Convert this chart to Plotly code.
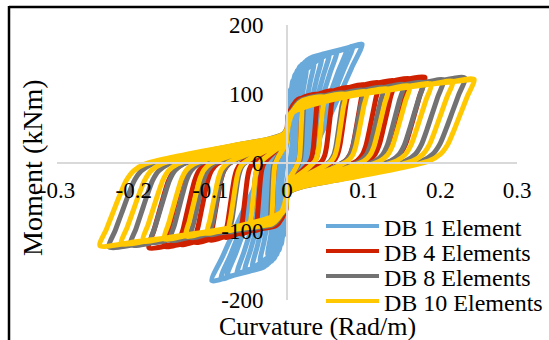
import plotly.graph_objects as go

# ---- data ----
series_names = ["DB 1 Element", "DB 4 Elements", "DB 8 Elements", "DB 10 Elements"]
series_colors = ["#6AAADB", "#CF2000", "#727272", "#FFC800"]

# peak curvature (Rad/m) of each cycle
blue_amp = [0.015, 0.025, 0.035, 0.045, 0.055, 0.065, 0.078, 0.086, 0.098]
red_amp = [0.020, 0.040, 0.060, 0.080, 0.100, 0.120, 0.140, 0.160, 0.180]
gray_amp = [0.022, 0.048, 0.074, 0.100, 0.126, 0.152, 0.178, 0.204, 0.232]
yellow_amp = [0.020, 0.048, 0.076, 0.104, 0.132, 0.160, 0.188, 0.216, 0.244]

# peak moment (kNm) of each cycle
blue_mom = [120, 135, 145, 152, 158, 162, 166, 169, 172]
red_mom = [94, 99, 104, 109, 113, 116, 119, 122, 124]
gray_mom = [92, 97, 101, 105, 109, 113, 116, 120, 123]
yellow_mom = [90, 95, 99, 103, 107, 111, 114, 118, 121]

# normalised half-loop shapes (positive tip -> negative tip), the other half mirrors it
pinched_u = [1.0, 0.965, 0.93, 0.895, 0.86, 0.82, 0.76, 0.6, 0.3, 0.1, 0.02,
             0.0, -0.02, -0.05, -0.08, -0.2, -0.4, -0.6, -0.8, -1.0]
pinched_v = [1.0, 0.8, 0.6, 0.4, 0.22, 0.1, 0.02, -0.07, -0.2, -0.28, -0.34,
             -0.4, -0.55, -0.68, -0.74, -0.78, -0.84, -0.895, -0.95, -1.0]
db1_u = [1.0, 0.86, 0.72, 0.54, 0.34, 0.16, 0.0, -0.13, -0.18, -0.24, -0.3,
         -0.5, -0.75, -1.0]
db1_v = [1.0, 0.8, 0.6, 0.35, 0.1, -0.1, -0.25, -0.37, -0.6, -0.8, -0.88,
         -0.92, -0.96, -1.0]

x_tickvals = [-0.3, -0.2, -0.1, 0, 0.1, 0.2, 0.3]
x_ticktext = ["-0.3", "-0.2", "-0.1", "0", "0.1", "0.2", "0.3"]
y_tickvals = [-200, -100, 0, 100, 200]
y_ticktext = ["-200", "-100", "0", "100", "200"]

amps = [blue_amp, red_amp, gray_amp, yellow_amp]
moms = [blue_mom, red_mom, gray_mom, yellow_mom]
shapes_u = [db1_u, pinched_u, pinched_u, pinched_u]
shapes_v = [db1_v, pinched_v, pinched_v, pinched_v]


def build(amp_list, mom_list, su, sv):
    xs, ys = [], []
    for a, m in zip(amp_list, mom_list):
        half_x = [u * a for u in su]
        half_y = [v * m for v in sv]
        xs += half_x + [-x for x in half_x[1:]]
        ys += half_y + [-y for y in half_y[1:]]
    return xs, ys


fig = go.Figure()
for name, col, a, m, su, sv in zip(series_names, series_colors, amps, moms, shapes_u, shapes_v):
    xs, ys = build(a, m, su, sv)
    fig.add_trace(go.Scatter(x=xs, y=ys, mode="lines", name=name,
                             line=dict(color=col, width=5, shape="spline", smoothing=0.7),
                             showlegend=False, hoverinfo="skip"))

W, H = 549, 340
ML, MR, MT, MB = 57, 32, 25, 40
PW, PH = W - ML - MR, H - MT - MB


def px(xp):
    return (xp - ML) / PW


def py(yp):
    return 1 - (yp - MT) / PH


font = "Liberation Serif"

shapes = [
    dict(type="line", xref="paper", yref="paper", x0=px(9), x1=px(W + 5), y0=py(7), y1=py(7),
         line=dict(color="black", width=2.5)),
    dict(type="line", xref="paper", yref="paper", x0=px(9), x1=px(9), y0=py(6), y1=py(H + 5),
         line=dict(color="black", width=2.5)),
]
annotations = [
    dict(text="Moment (kNm)", xref="paper", yref="paper", x=px(32), y=py(168),
         textangle=-90, showarrow=False, font=dict(family=font, size=28, color="black"),
         xanchor="center", yanchor="middle"),
    dict(text="Curvature (Rad/m)", xref="paper", yref="paper", x=px(317), y=py(326),
         showarrow=False, font=dict(family=font, size=26, color="black"),
         xanchor="center", yanchor="middle"),
]
leg_y = [226, 251, 276, 301]
for name, col, ly in zip(series_names, series_colors, leg_y):
    shapes.append(dict(type="line", xref="paper", yref="paper", x0=px(326), x1=px(379),
                       y0=py(ly), y1=py(ly), line=dict(color=col, width=4)))
    annotations.append(dict(text=name, xref="paper", yref="paper", x=px(382), y=py(ly + 2),
                            showarrow=False, xanchor="left", yanchor="middle",
                            font=dict(family=font, size=24, color="black")))

fig.update_layout(
    width=W, height=H,
    font=dict(family=font, size=23, color="black"),
    margin=dict(l=ML, r=MR, t=MT, b=MB),
    paper_bgcolor="white", plot_bgcolor="white",
    showlegend=False,
    shapes=shapes, annotations=annotations,
    xaxis=dict(range=[-0.3, 0.3], tickvals=x_tickvals, ticktext=x_ticktext,
               anchor="free", position=0.5, showline=True, linecolor="#D9D9D9", linewidth=2,
               showgrid=False, zeroline=False, ticks="", ticklabelstandoff=7,
               tickfont=dict(family=font, size=23, color="black")),
    yaxis=dict(range=[-200, 200], tickvals=y_tickvals, ticktext=y_ticktext,
               anchor="free", position=0.5, showline=True, linecolor="#D9D9D9", linewidth=2,
               showgrid=False, zeroline=False, ticks="", ticklabelstandoff=18,
               tickfont=dict(family=font, size=23, color="black")),
)

fig.write_html("out.html")
